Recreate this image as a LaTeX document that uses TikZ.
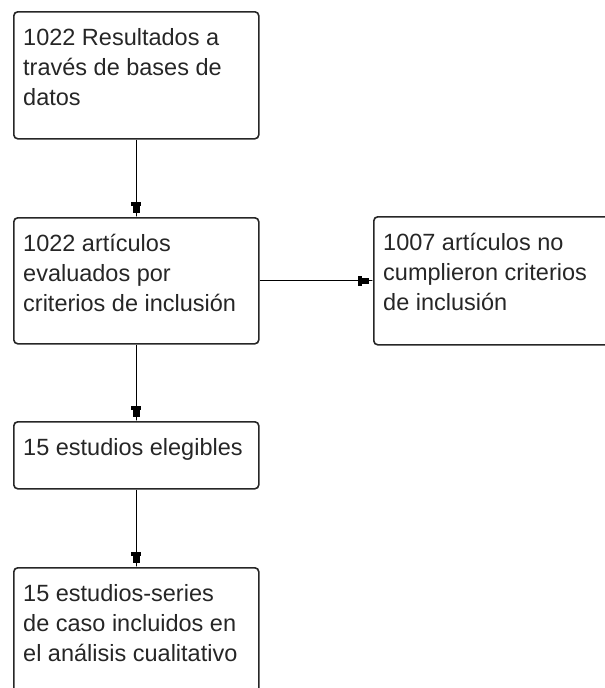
\documentclass[tikz,border=0pt]{standalone}
\usepackage{fontspec}
\setmainfont{Liberation Sans}
\usetikzlibrary{arrows.meta}
\begin{document}
\begin{tikzpicture}[x=1pt,y=-1pt,
  box/.style={draw=black!85, line width=1.6pt, rounded corners=4pt, inner sep=0pt, anchor=north west, minimum width=245pt},
  txt/.style={anchor=base west, inner sep=0pt, text=black!85, font=\fontsize{23.5}{30}\selectfont},
  conn/.style={draw=black, line width=1.3pt, -{Rectangle[length=4pt,width=10pt]Rectangle[length=7pt,width=6.5pt]Rectangle[length=4pt,width=1.3pt]}}]
\useasboundingbox (0,0) rectangle (605,688);
\node[box, minimum height=127pt] (b1) at (13,11) {};
\node[box, minimum height=126pt] (b2) at (13,217) {};
\node[box, minimum height=128pt] (b3) at (373,216) {};
\node[box, minimum height=67pt] (b4) at (13,421) {};
\node[box, minimum height=140pt] (b5) at (13,567) {};
\node[txt] (t1) at (23,45) {\begin{tabular}[t]{@{}l@{}}1022 Resultados a\\través de bases de\\datos\end{tabular}};
\node[txt] (t2) at (23,251) {\begin{tabular}[t]{@{}l@{}}1022 artículos\\evaluados por\\criterios de inclusión\end{tabular}};
\node[txt] (t3) at (383,250) {\begin{tabular}[t]{@{}l@{}}1007 artículos no\\cumplieron criterios\\de inclusión\end{tabular}};
\node[txt] (t4) at (23,455) {\begin{tabular}[t]{@{}l@{}}15 estudios elegibles\end{tabular}};
\node[txt] (t5) at (23,601) {\begin{tabular}[t]{@{}l@{}}15 estudios-series\\de caso incluidos en\\el análisis cualitativo\end{tabular}};
\draw[conn] (b1.south) -- (b2.north);
\draw[conn] (b2.east) -- (b3.west);
\draw[conn] (b2.south) -- (b4.north);
\draw[conn] (b4.south) -- (b5.north);
\end{tikzpicture}
\end{document}
